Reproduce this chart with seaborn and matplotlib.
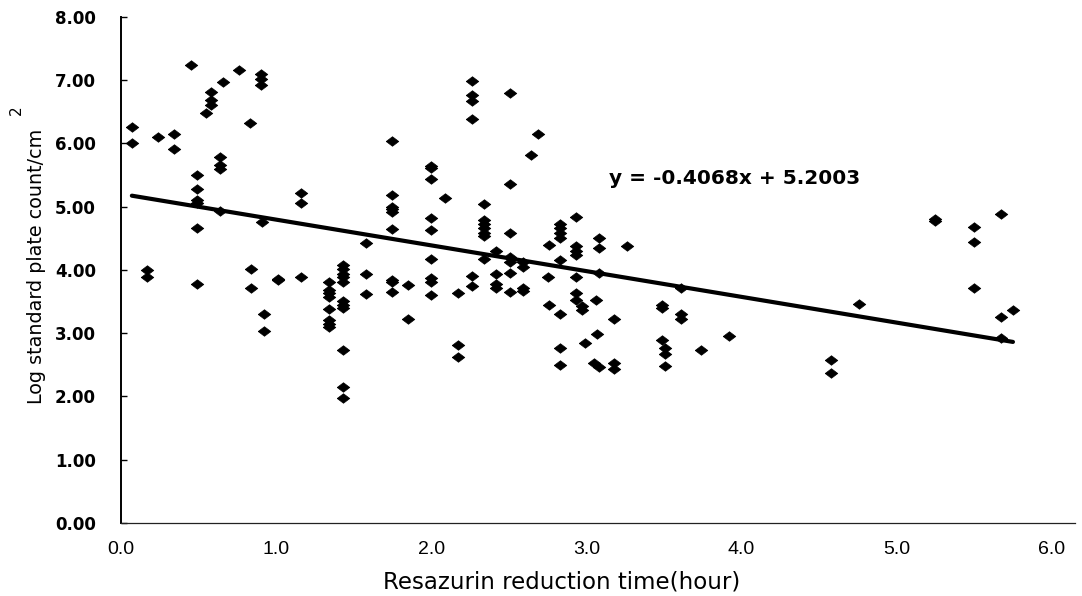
import matplotlib
matplotlib.use("Agg")
import matplotlib.pyplot as plt
from matplotlib import font_manager
import seaborn as sns
import pandas as pd
import numpy as np

# ---------------- data ----------------
time_hours = [
    0.07, 0.07,
    0.17, 0.17,
    0.24,
    0.34, 0.34,
    0.45,
    0.49, 0.49, 0.49, 0.49, 0.49, 0.49,
    0.55,
    0.58, 0.58, 0.58,
    0.64, 0.64, 0.64, 0.64,
    0.66,
    0.76,
    0.83,
    0.84, 0.84,
    0.90, 0.90, 0.90,
    0.91,
    0.92, 0.92,
    1.01, 1.01,
    1.16, 1.16, 1.16,
    1.34, 1.34, 1.34, 1.34, 1.34, 1.34, 1.34, 1.34,
    1.43, 1.43, 1.43, 1.43, 1.43, 1.43, 1.43, 1.43, 1.43, 1.43, 1.43,
    1.58, 1.58, 1.58,
    1.75, 1.75, 1.75, 1.75, 1.75, 1.75, 1.75, 1.75, 1.75,
    1.85, 1.85,
    2.00, 2.00, 2.00, 2.00, 2.00, 2.00, 2.00, 2.00, 2.00,
    2.09,
    2.17, 2.17, 2.17,
    2.26, 2.26, 2.26, 2.26, 2.26, 2.26,
    2.34, 2.34, 2.34, 2.34, 2.34, 2.34, 2.34,
    2.42, 2.42, 2.42, 2.42,
    2.51, 2.51, 2.51, 2.51, 2.51, 2.51, 2.51,
    2.59, 2.59, 2.59, 2.59,
    2.64,
    2.69,
    2.75,
    2.76, 2.76,
    2.83, 2.83, 2.83, 2.83, 2.83, 2.83, 2.83, 2.83,
    2.93, 2.93, 2.93, 2.93, 2.93, 2.93, 2.93,
    2.97, 2.97,
    2.99,
    3.05,
    3.06,
    3.07,
    3.08, 3.08, 3.08, 3.08,
    3.18, 3.18, 3.18,
    3.26,
    3.49, 3.49, 3.49,
    3.51, 3.51, 3.51,
    3.61, 3.61, 3.61,
    3.74,
    3.92,
    4.58, 4.58,
    4.76,
    5.25, 5.25,
    5.50, 5.50, 5.50,
    5.67, 5.67, 5.67,
    5.75,
]

log_count = [
    6.26, 6.01,
    3.99, 3.88,
    6.10,
    6.15, 5.91,
    7.24,
    5.50, 5.28, 5.10, 5.05, 4.66, 3.77,
    6.48,
    6.81, 6.68, 6.61,
    5.78, 5.66, 5.59, 4.93,
    6.97,
    7.16,
    6.32,
    4.02, 3.72,
    7.09, 7.01, 6.92,
    4.75,
    3.30, 3.04,
    3.86, 3.84,
    5.22, 5.06, 3.89,
    3.81, 3.68, 3.63, 3.57, 3.38, 3.21, 3.15, 3.09,
    4.08, 4.01, 3.94, 3.88, 3.81, 3.50, 3.44, 3.39, 2.73, 2.15, 1.97,
    4.43, 3.94, 3.62,
    6.03, 5.19, 5.00, 4.96, 4.91, 4.65, 3.84, 3.81, 3.65,
    3.76, 3.22,
    5.64, 5.61, 5.43, 4.82, 4.63, 4.17, 3.87, 3.81, 3.60,
    5.14,
    3.63, 2.81, 2.63,
    6.99, 6.77, 6.67, 6.39, 3.90, 3.74,
    5.04, 4.79, 4.72, 4.66, 4.59, 4.53, 4.17,
    4.30, 3.93, 3.77, 3.71,
    6.80, 5.36, 4.59, 4.21, 4.13, 3.95, 3.65,
    4.13, 4.04, 3.71, 3.67,
    5.82,
    6.15,
    3.88,
    4.39, 3.44,
    4.73, 4.66, 4.59, 4.51, 4.15, 3.31, 2.77, 2.50,
    4.83, 4.38, 4.30, 4.23, 3.88, 3.63, 3.53,
    3.43, 3.36,
    2.85,
    2.53,
    3.53,
    2.99,
    4.50, 4.34, 3.95, 2.47,
    3.23, 2.53, 2.44,
    4.37,
    3.44, 3.39, 2.89,
    2.76, 2.67, 2.48,
    3.72, 3.31, 3.23,
    2.74,
    2.96,
    2.57, 2.37,
    3.46,
    4.80, 4.77,
    4.68, 4.44, 3.71,
    4.88, 3.25, 2.93,
    3.36,
]

slope = -0.4068
intercept = 5.2003
equation_label = "y = -0.4068x + 5.2003"

x_ticks = [0, 1, 2, 3, 4, 5, 6]
x_tick_labels = ["0.0", "1.0", "2.0", "3.0", "4.0", "5.0", "6.0"]
y_ticks = [0, 1, 2, 3, 4, 5, 6, 7, 8]
y_tick_labels = ["0.00", "1.00", "2.00", "3.00", "4.00", "5.00", "6.00", "7.00", "8.00"]

x_label = "Resazurin reduction time(hour)"
y_label = "Log standard plate count/cm"
y_label_sup = "2"

# ---------------- style ----------------
sns.set_style("white")
plt.rcParams["font.family"] = ["DejaVu Sans"]
plt.rcParams["text.color"] = "black"
plt.rcParams["axes.labelcolor"] = "black"
plt.rcParams["xtick.color"] = "black"
plt.rcParams["ytick.color"] = "black"

installed = {f.name for f in font_manager.fontManager.ttflist}
narrow = "Liberation Sans Narrow" if "Liberation Sans Narrow" in installed else "Liberation Sans"

df = pd.DataFrame({"time": time_hours, "logc": log_count})

fig = plt.figure(figsize=(10.82, 5.96), dpi=100)
ax = fig.add_axes([121 / 1082, 1 - 523 / 596, (1075 - 121) / 1082, (523 - 16.7) / 596])

diamond = [(-1.0, 0.0), (0.0, 0.76), (1.0, 0.0), (0.0, -0.76), (-1.0, 0.0)]
sns.scatterplot(data=df, x="time", y="logc", ax=ax, marker=diamond, s=82,
                color="black", edgecolor="black", linewidth=0.5, zorder=3)

# regression line from the printed coefficients, across the data range
line_x = np.array([min(time_hours), max(time_hours)])
line_df = pd.DataFrame({"time": line_x, "fit": slope * line_x + intercept})
sns.lineplot(data=line_df, x="time", y="fit", ax=ax, color="black", linewidth=3.0, zorder=2)

ax.set_xlim(0, 6.15)
ax.set_ylim(0, 8)

ax.set_xticks(x_ticks)
ax.set_xticklabels(x_tick_labels, family=[narrow, "DejaVu Sans"],
                   fontsize=16 if narrow != "Liberation Sans" else 14, color="black")
ax.set_yticks(y_ticks)
ax.set_yticklabels(y_tick_labels, fontsize=12, fontweight="bold", color="black")

ax.tick_params(axis="y", direction="in", length=4, width=1, color="black", pad=18, left=True)
ax.tick_params(axis="x", length=0, pad=13)

for side in ["top", "right"]:
    ax.spines[side].set_visible(False)
ax.spines["left"].set_color("black")
ax.spines["left"].set_linewidth(1.4)
ax.spines["bottom"].set_color("#222222")
ax.spines["bottom"].set_linewidth(0.9)

ax.set_xlabel(x_label, fontsize=16.5, family=["DejaVu Sans"], color="black")
ax.xaxis.set_label_coords((562 - 121) / 954, -0.093)
ax.set_ylabel(y_label, fontsize=13.8, color="black")
ax.yaxis.set_label_coords((46 - 121) / 954, (523 - 267) / 506)
fig.text(16 / 1082, 1 - 110 / 596, y_label_sup, rotation=90, ha="center", va="center",
         fontsize=11, color="black")

ax.text((610 - 122) / 155, (523 - 178) / 63.3, equation_label, ha="left", va="center",
        fontsize=14.5, fontweight="bold", color="black")

fig.savefig("out.png", dpi=100)
